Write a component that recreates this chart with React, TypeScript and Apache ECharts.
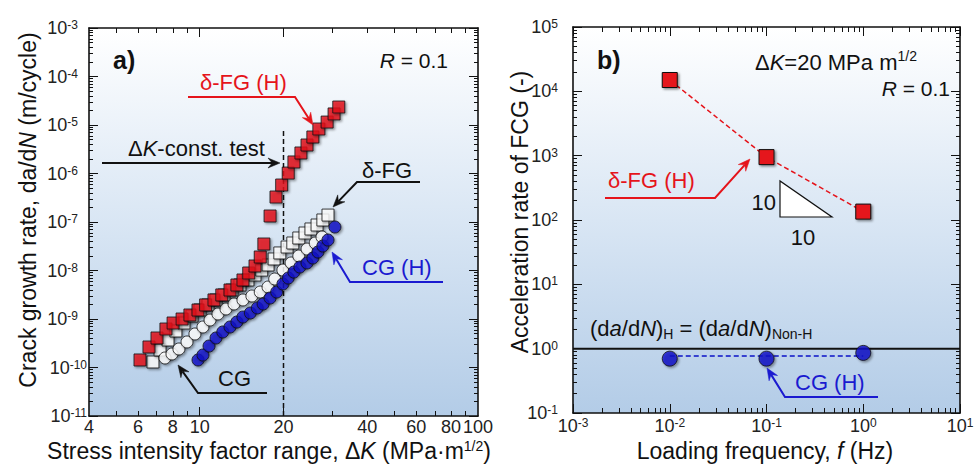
import React, { useEffect, useRef } from 'react';
import * as echarts from 'echarts';

const FONT = "'Liberation Sans', Arial, Helvetica, sans-serif";
const RED = '#e5141b';
const BLUE_TXT = '#1a1ad0';
const BLUE_FILL = '#0b12c8';
const INK = '#111111';

// ---------- Panel a) : da/dN vs ΔK ----------
const dkFGH = [6.10, 6.57, 7.02, 7.56, 8.02, 8.64, 9.22, 9.86, 10.5, 11.25, 12.0, 12.85, 13.6, 14.3, 15.0, 15.8, 16.5, 17.0, 17.9, 18.8, 19.7, 20.8, 21.8, 23.1, 24.3, 25.5, 26.8, 28.7, 30.4, 31.6];
const rateFGH = [1.43e-10, 2.65e-10, 4.06e-10, 6.22e-10, 8.27e-10, 1.0e-9, 1.21e-9, 1.53e-9, 1.95e-9, 2.47e-9, 3.13e-9, 3.96e-9, 5.02e-9, 6.37e-9, 8.87e-9, 1.24e-8, 1.90e-8, 3.52e-8, 1.33e-7, 3.27e-7, 5.79e-7, 1.02e-6, 1.73e-6, 2.65e-6, 3.87e-6, 5.66e-6, 8.27e-6, 1.15e-5, 1.69e-5, 2.35e-5];
const dkFG = [6.79, 7.20, 7.69, 8.21, 8.78, 9.38, 10.02, 10.71, 11.44, 12.22, 13.06, 13.95, 14.9, 15.8, 16.7, 17.6, 18.5, 19.4, 20.6, 21.6, 22.7, 23.9, 25.1, 26.4, 27.7, 28.9];
const rateFG = [1.30e-10, 2.30e-10, 3.69e-10, 5.66e-10, 8.27e-10, 1.15e-9, 1.53e-9, 1.95e-9, 2.47e-9, 3.13e-9, 3.96e-9, 5.02e-9, 6.37e-9, 8.07e-9, 1.02e-8, 1.30e-8, 1.73e-8, 2.30e-8, 3.05e-8, 3.69e-8, 4.68e-8, 5.93e-8, 7.18e-8, 8.67e-8, 1.10e-7, 1.39e-7];
const dkCG = [7.50, 7.95, 8.42, 9.00, 9.61, 10.27, 10.89, 11.63, 12.43, 13.28, 14.3, 15.4, 16.5, 17.6, 18.6, 19.9, 21.3, 22.7, 24.3, 26.0, 27.5];
const rateCG = [1.57e-10, 1.90e-10, 2.41e-10, 3.36e-10, 4.91e-10, 6.84e-10, 9.53e-10, 1.27e-9, 1.61e-9, 2.04e-9, 2.47e-9, 2.98e-9, 3.6e-9, 4.57e-9, 6.68e-9, 1.02e-8, 1.43e-8, 1.99e-8, 2.77e-8, 3.69e-8, 4.91e-8];
const dkCGH = [9.86, 10.27, 10.8, 11.44, 12.1, 12.85, 13.6, 14.3, 15.2, 16.1, 16.9, 17.9, 18.9, 19.9, 20.8, 21.8, 22.9, 24.3, 25.5, 26.6, 27.7, 28.9, 30.6];
const rateCGH = [1.43e-10, 1.81e-10, 2.77e-10, 4.06e-10, 5.40e-10, 6.84e-10, 8.67e-10, 1.10e-9, 1.33e-9, 1.69e-9, 2.04e-9, 2.71e-9, 3.6e-9, 5.27e-9, 7.0e-9, 9.3e-9, 1.18e-8, 1.43e-8, 1.81e-8, 2.41e-8, 3.20e-8, 4.25e-8, 7.88e-8];

const constDK = 20;
const constLineTop = 8.7e-6;
const aXMin = 4;
const aXMax = 100;
const aXLabels = [4, 6, 8, 10, 20, 40, 60, 80, 100];
const aXMajor = [10, 20];
const aXMinor = [5, 6, 7, 8, 9, 30, 40, 50, 60, 70, 80, 90];
const aYDecades = [-11, -10, -9, -8, -7, -6, -5, -4, -3];

// ---------- Panel b) : acceleration vs frequency ----------
const freq = [0.01, 0.1, 1];
const accFGH = [15000, 950, 135];
const accCGH = [0.70, 0.70, 0.86];
const cgFitFreq = [0.01, 1];
const cgFitAcc = [0.77, 0.77];
const unityFreq = [0.001, 10];
const unityAcc = [1, 1];
const bXDecades = [-3, -2, -1, 0, 1];
const bYDecades = [-1, 0, 1, 2, 3, 4, 5];

const lg = (v: number) => Math.log10(v);
const minorOf = (decs: number[]) => {
  const out: number[] = [];
  for (let i = 0; i < decs.length - 1; i++) for (let k = 2; k <= 9; k++) out.push(decs[i] + lg(k));
  return out;
};

const RICH_TICK = {
  b: { fontSize: 18, fontFamily: FONT, color: '#222', lineHeight: 18 },
  s: { fontSize: 12, fontFamily: FONT, color: '#222', lineHeight: 10, verticalAlign: 'top' },
  t: { fontSize: 12, fontFamily: FONT, color: '#222', lineHeight: 10, verticalAlign: 'top', padding: [0, 9, 0, 0] },
};
const powFmt = (v: number) => `{b|10}{s|${Math.round(v)}}`;
// left panel: short exponents get right padding so labels sit centred as in the original
const powFmtPad = (v: number) => {
  const e = String(Math.round(v));
  return e.length >= 3 ? `{b|10}{s|${e}}` : `{b|10}{t|${e}}`;
};

type AxisSpec = {
  grid: number; pos: string; min: number; max: number; ticks: number[]; len: number; line: boolean;
  labels?: number[]; fmt?: (v: number) => string; margin?: number; align?: string; rich?: boolean;
};
function axis(s: AxisSpec) {
  return {
    type: 'value', gridIndex: s.grid, position: s.pos, min: s.min, max: s.max,
    axisLine: { show: s.line, onZero: false, lineStyle: { color: INK, width: 1.6 } },
    axisTick: { show: true, inside: true, length: s.len, customValues: s.ticks, lineStyle: { color: INK, width: 1 } },
    axisLabel: s.labels
      ? {
          show: true, customValues: s.labels, formatter: s.fmt, margin: s.margin, align: s.align,
          fontSize: 18, lineHeight: 16, fontFamily: FONT, color: '#222', hideOverlap: false,
          rich: s.rich ? RICH_TICK : undefined,
        }
      : { show: false },
    splitLine: { show: false },
    splitArea: { show: false },
  };
}

function rich(size: number, color: string, lh: number) {
  const base = { fontSize: size, fontFamily: FONT, fill: color, lineHeight: lh };
  const small = Math.round(size * 0.62);
  return {
    i: { ...base, fontStyle: 'italic' },
    b: { ...base, fontWeight: 'bold' },
    sup: { fontSize: small, fontFamily: FONT, fill: color, lineHeight: small, verticalAlign: 'top' },
    sub: { fontSize: small, fontFamily: FONT, fill: color, lineHeight: small, verticalAlign: 'bottom' },
  };
}

function txt(x: number, y: number, text: string, o: any = {}) {
  const size = o.size || 22;
  const color = o.color || INK;
  const lh = o.lh || size + 4;
  return {
    type: 'text', x, y, rotation: o.rot || 0, z: 50,
    style: {
      text, fontSize: size, fontFamily: FONT, fill: color, fontWeight: o.bold ? 'bold' : 'normal',
      lineHeight: lh, align: o.align || 'left', verticalAlign: 'middle', rich: rich(size, color, lh),
    },
  };
}

function arrow(pts: number[][], color: string) {
  const n = pts.length;
  const [x2, y2] = pts[n - 1];
  const [x1, y1] = pts[n - 2];
  const a = Math.atan2(y2 - y1, x2 - x1);
  const L = 12, W = 5;
  const c = Math.cos(a), s = Math.sin(a);
  const bx = x2 - L * c, by = y2 - L * s;
  const nx = x2 - 0.65 * L * c, ny = y2 - 0.65 * L * s;
  const px = -s, py = c;
  const linePts = pts.slice(0, n - 1).concat([[nx, ny]]);
  return [
    { type: 'polyline', z: 40, shape: { points: linePts }, style: { stroke: color, lineWidth: 2, fill: null } },
    {
      type: 'polygon', z: 41,
      shape: { points: [[x2, y2], [bx + W * px, by + W * py], [nx, ny], [bx - W * px, by - W * py]] },
      style: { fill: color, stroke: color, lineWidth: 0.5 },
    },
  ];
}

const bg = () =>
  new echarts.graphic.LinearGradient(0, 0, 0, 1, [
    { offset: 0, color: '#ffffff' },
    { offset: 0.5, color: '#d9e6f4' },
    { offset: 1, color: '#b3cce7' },
  ]);

const shadow = { shadowColor: 'rgba(0,0,0,0.45)', shadowBlur: 2, shadowOffsetX: 1.5, shadowOffsetY: 1.5 };

export default function App() {
  const ref = useRef<HTMLDivElement>(null);
  useEffect(() => {
    if (!ref.current) return;
    const chart = echarts.init(ref.current, undefined, { renderer: 'svg' });

    const axMin = lg(aXMin), axMax = lg(aXMax);
    const ayMin = aYDecades[0], ayMax = aYDecades[aYDecades.length - 1];
    const bxMin = bXDecades[0], bxMax = bXDecades[bXDecades.length - 1];
    const byMin = bYDecades[0], byMax = bYDecades[bYDecades.length - 1];

    const xAxes = [
      axis({ grid: 0, pos: 'bottom', min: axMin, max: axMax, ticks: aXMajor.map(lg), len: 9, line: true,
        labels: aXLabels.map(lg), fmt: (v) => String(Math.round(Math.pow(10, v))), margin: 3 }),
      axis({ grid: 0, pos: 'bottom', min: axMin, max: axMax, ticks: aXMinor.map(lg), len: 5, line: false }),
      axis({ grid: 0, pos: 'top', min: axMin, max: axMax, ticks: aXMajor.map(lg), len: 9, line: true }),
      axis({ grid: 0, pos: 'top', min: axMin, max: axMax, ticks: aXMinor.map(lg), len: 5, line: false }),
      axis({ grid: 1, pos: 'bottom', min: bxMin, max: bxMax, ticks: bXDecades, len: 9, line: true,
        labels: bXDecades, fmt: powFmt, margin: 4, rich: true }),
      axis({ grid: 1, pos: 'bottom', min: bxMin, max: bxMax, ticks: minorOf(bXDecades), len: 5, line: false }),
      axis({ grid: 1, pos: 'top', min: bxMin, max: bxMax, ticks: bXDecades, len: 9, line: true }),
      axis({ grid: 1, pos: 'top', min: bxMin, max: bxMax, ticks: minorOf(bXDecades), len: 5, line: false }),
    ];
    const yAxes = [
      axis({ grid: 0, pos: 'left', min: ayMin, max: ayMax, ticks: aYDecades, len: 9, line: true,
        labels: aYDecades, fmt: powFmtPad, margin: 2, align: 'right', rich: true }),
      axis({ grid: 0, pos: 'left', min: ayMin, max: ayMax, ticks: minorOf(aYDecades), len: 4, line: false }),
      axis({ grid: 0, pos: 'right', min: ayMin, max: ayMax, ticks: aYDecades, len: 9, line: true }),
      axis({ grid: 0, pos: 'right', min: ayMin, max: ayMax, ticks: minorOf(aYDecades), len: 4, line: false }),
      axis({ grid: 1, pos: 'left', min: byMin, max: byMax, ticks: bYDecades, len: 9, line: true,
        labels: bYDecades, fmt: powFmt, margin: 15, align: 'right', rich: true }),
      axis({ grid: 1, pos: 'left', min: byMin, max: byMax, ticks: minorOf(bYDecades), len: 4, line: false }),
      axis({ grid: 1, pos: 'right', min: byMin, max: byMax, ticks: bYDecades, len: 9, line: true }),
      axis({ grid: 1, pos: 'right', min: byMin, max: byMax, ticks: minorOf(bYDecades), len: 4, line: false }),
    ];

    const pts = (xs: number[], ys: number[]) => xs.map((x, i) => [lg(x), lg(ys[i])]);

    const series: any[] = [
      { type: 'line', xAxisIndex: 0, yAxisIndex: 0, data: [[lg(constDK), ayMin], [lg(constDK), lg(constLineTop)]],
        symbol: 'none', lineStyle: { color: INK, width: 1.5, type: [5, 3] }, z: 1, silent: true },
      { type: 'scatter', name: 'δ-FG', xAxisIndex: 0, yAxisIndex: 0, data: pts(dkFG, rateFG), symbol: 'rect', symbolSize: 12,
        itemStyle: { color: '#ffffff', borderColor: INK, borderWidth: 1, ...shadow }, z: 2 },
      { type: 'scatter', name: 'CG', xAxisIndex: 0, yAxisIndex: 0, data: pts(dkCG, rateCG), symbol: 'circle', symbolSize: 12,
        itemStyle: { color: '#ffffff', borderColor: INK, borderWidth: 1, ...shadow }, z: 3 },
      { type: 'scatter', name: 'CG (H)', xAxisIndex: 0, yAxisIndex: 0, data: pts(dkCGH, rateCGH), symbol: 'circle', symbolSize: 12,
        itemStyle: { color: BLUE_FILL, borderColor: INK, borderWidth: 1, ...shadow }, z: 4 },
      { type: 'scatter', name: 'δ-FG (H)', xAxisIndex: 0, yAxisIndex: 0, data: pts(dkFGH, rateFGH), symbol: 'rect', symbolSize: 12,
        itemStyle: { color: RED, borderColor: INK, borderWidth: 1, ...shadow }, z: 5 },
      { type: 'line', xAxisIndex: 4, yAxisIndex: 4, data: pts(unityFreq, unityAcc), symbol: 'none',
        lineStyle: { color: INK, width: 2 }, z: 1, silent: true },
      { type: 'line', xAxisIndex: 4, yAxisIndex: 4, data: pts(cgFitFreq, cgFitAcc), symbol: 'none',
        lineStyle: { color: BLUE_FILL, width: 1.5, type: [5, 3] }, z: 2, silent: true },
      { type: 'scatter', name: 'CG (H) acc', xAxisIndex: 4, yAxisIndex: 4, data: pts(freq, accCGH), symbol: 'circle', symbolSize: 15,
        itemStyle: { color: BLUE_FILL, borderColor: INK, borderWidth: 1, ...shadow }, z: 3 },
      { type: 'line', name: 'δ-FG (H) acc', xAxisIndex: 4, yAxisIndex: 4, data: pts(freq, accFGH), symbol: 'rect', symbolSize: 15,
        showSymbol: true, lineStyle: { color: RED, width: 1.5, type: [5, 3] },
        itemStyle: { color: RED, borderColor: INK, borderWidth: 1, ...shadow }, z: 4 },
    ];

    const graphic: any[] = [
      // axis titles
      txt(269, 451, 'Stress intensity factor range, Δ{i|K} (MPa·m{sup|1/2})', { size: 23, lh: 24, align: 'center' }),
      txt(28, 210, 'Crack growth rate, da/d{i|N} (m/cycle)', { size: 23, lh: 24, align: 'center', rot: Math.PI / 2 }),
      txt(765, 451, 'Loading frequency, {i|f} (Hz)', { size: 23, lh: 24, align: 'center' }),
      txt(520, 212, 'Acceleration rate of FCG (-)', { size: 23, lh: 24, align: 'center', rot: Math.PI / 2 }),
      // panel a annotations
      txt(113, 60, 'a)', { size: 25, bold: true }),
      txt(448, 60, '{i|R} = 0.1', { size: 21, align: 'right' }),
      txt(200, 82, 'δ-FG (H)', { size: 22, color: RED }),
      txt(128, 148, 'Δ{i|K}-const. test', { size: 22 }),
      txt(362, 170, 'δ-FG', { size: 22 }),
      txt(362, 267, 'CG (H)', { size: 22, color: BLUE_TXT }),
      txt(218, 378, 'CG', { size: 22 }),
      ...arrow([[188, 97], [295, 97], [313, 125]], RED),
      ...arrow([[102, 163], [280, 163]], INK),
      ...arrow([[420, 182], [357, 182], [333, 207]], INK),
      ...arrow([[443, 282], [350, 282], [332, 252]], BLUE_TXT),
      ...arrow([[267, 393], [198, 393], [178, 365]], INK),
      // panel b annotations
      txt(597, 60, 'b)', { size: 25, bold: true }),
      txt(755, 62, 'Δ{i|K}=20 MPa m{sup|1/2}', { size: 22 }),
      txt(950, 88, '{i|R} = 0.1', { size: 21, align: 'right' }),
      txt(608, 180, 'δ-FG (H)', { size: 22, color: RED }),
      txt(776, 202, '10', { size: 22, align: 'right' }),
      txt(803, 237, '10', { size: 22, align: 'center' }),
      txt(590, 328, '(d{i|a}/d{i|N}){sub|H} = (d{i|a}/d{i|N}){sub|Non-H}', { size: 22 }),
      txt(795, 382, 'CG (H)', { size: 22, color: BLUE_TXT }),
      {
        type: 'polygon', z: 40, shape: { points: [[780, 181], [780, 217], [832, 217]] },
        style: { fill: '#ffffff', stroke: INK, lineWidth: 1.2 },
      },
      ...arrow([[605, 198], [715, 198], [750, 159]], RED),
      ...arrow([[878, 397], [785, 397], [767, 368]], BLUE_TXT),
    ];

    chart.setOption({
      animation: false,
      backgroundColor: '#ffffff',
      textStyle: { fontFamily: FONT },
      grid: [
        { left: 89, top: 28, width: 389, height: 388, show: true, backgroundColor: bg(), borderWidth: 0, containLabel: false, outerBoundsMode: 'none' },
        { left: 573, top: 27, width: 387, height: 386, show: true, backgroundColor: bg(), borderWidth: 0, containLabel: false, outerBoundsMode: 'none' },
      ],
      xAxis: xAxes,
      yAxis: yAxes,
      series,
      graphic,
    });
    return () => chart.dispose();
  }, []);
  return <div ref={ref} style={{ position: 'fixed', left: 0, top: 0, width: 974, height: 469, background: '#fff' }} />;
}
